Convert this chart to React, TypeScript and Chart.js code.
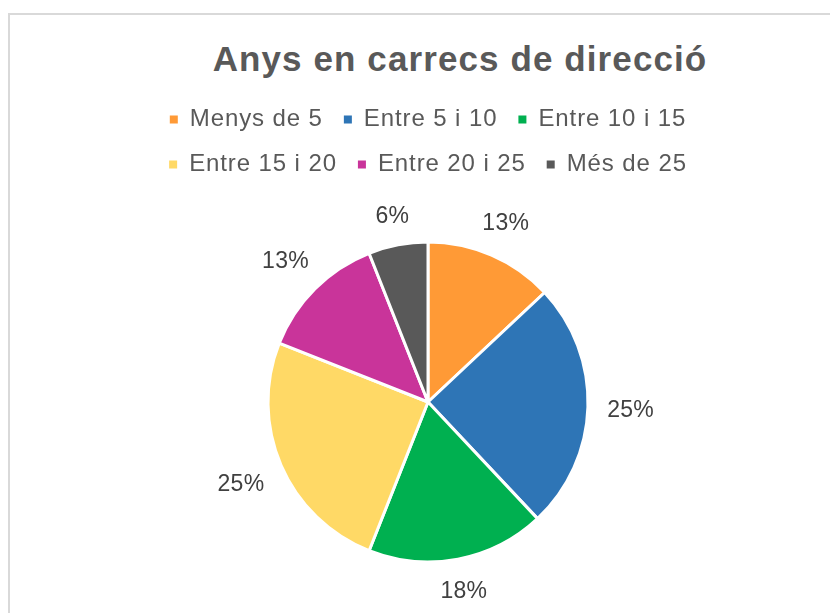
import React, { useEffect, useRef } from 'react';
import { Chart, registerables } from 'chart.js';

Chart.register(...registerables);

const titleText = 'Anys en carrecs de direcció';
const categories = ['Menys de 5', 'Entre 5 i 10', 'Entre 10 i 15', 'Entre 15 i 20', 'Entre 20 i 25', 'Més de 25'];
const shares = [13, 25, 18, 25, 13, 6];
const sliceColors = ['#FF9A36', '#2E75B6', '#00B050', '#FFD966', '#C9349A', '#595959'];

const FONT = "'Liberation Sans', Arial, Helvetica, sans-serif";

const legendSpacing = {
  id: 'legendSpacing',
  beforeLayout(chart: any) {
    chart.ctx.letterSpacing = '0.9px';
  },
  beforeDraw(chart: any) {
    chart.ctx.letterSpacing = '0.9px';
  },
};

const percentLabels = {
  id: 'percentLabels',
  afterDatasetsDraw(chart: any) {
    const ctx = chart.ctx;
    const meta = chart.getDatasetMeta(0);
    const data = chart.data.datasets[0].data as number[];
    const total = data.reduce((a, b) => a + b, 0);
    ctx.save();
    ctx.letterSpacing = '0.3px';
    ctx.font = `23px ${FONT}`;
    ctx.fillStyle = '#404040';
    ctx.textAlign = 'center';
    ctx.textBaseline = 'alphabetic';
    meta.data.forEach((arc: any, i: number) => {
      const p = arc.getProps(['x', 'y', 'startAngle', 'endAngle', 'outerRadius'], true);
      const mid = (p.startAngle + p.endAngle) / 2;
      const dx = Math.cos(mid);
      const dy = Math.sin(mid);
      const text = Math.round((data[i] / total) * 100) + '%';
      const w = ctx.measureText(text).width;
      const h = 16.5;
      const dist = p.outerRadius + 19 + (Math.abs(dx) * w) / 2 + (Math.abs(dy) * h) / 2;
      ctx.fillText(text, p.x + dx * dist, p.y + dy * dist + 8.2);
    });
    ctx.restore();
  },
};

export default function App() {
  const ref = useRef<HTMLCanvasElement>(null);

  useEffect(() => {
    const baseGen = (Chart as any).overrides.pie.plugins.legend.labels.generateLabels;
    const chart = new Chart(ref.current!, {
      type: 'pie',
      data: {
        labels: categories,
        datasets: [
          {
            data: shares,
            backgroundColor: sliceColors,
            borderColor: '#ffffff',
            borderWidth: 3,
            radius: 160,
          } as any,
        ],
      },
      options: {
        responsive: false,
        animation: false,
        devicePixelRatio: 1,
        layout: { padding: { top: 86.5, left: 140, right: 140, bottom: 42.5 } },
        plugins: {
          title: { display: false },
          tooltip: { enabled: false },
          legend: {
            position: 'top',
            align: 'center',
            labels: {
              color: '#595959',
              font: { family: FONT, size: 24 },
              boxWidth: 8,
              boxHeight: 8,
              padding: 21,
              generateLabels: (c: any) =>
                baseGen(c).map((l: any) => ({ ...l, lineWidth: 0, strokeStyle: 'rgba(0,0,0,0)' })),
            },
          },
        },
      },
      plugins: [legendSpacing, percentLabels],
    });
    return () => chart.destroy();
  }, []);

  return (
    <div
      style={{
        position: 'fixed',
        left: 0,
        top: 0,
        width: 830,
        height: 613,
        overflow: 'hidden',
        background: '#ffffff',
      }}
    >
      <div
        style={{
          position: 'absolute',
          left: 8,
          top: 13,
          width: 1000,
          height: 800,
          border: '2px solid #d9d9d9',
          boxSizing: 'border-box',
        }}
      />
      <div
        style={{
          position: 'absolute',
          left: 0,
          top: 41.4,
          width: 920,
          textAlign: 'center',
          font: `bold 35px ${FONT}`,
          lineHeight: '35px',
          letterSpacing: '1.1px',
          color: '#595959',
          whiteSpace: 'nowrap',
        }}
      >
        {titleText}
      </div>
      <div style={{ position: 'absolute', left: 0, top: 0, width: 856, height: 660 }}>
        <canvas ref={ref} width={856} height={660} style={{ width: 856, height: 660, display: 'block' }} />
      </div>
    </div>
  );
}
